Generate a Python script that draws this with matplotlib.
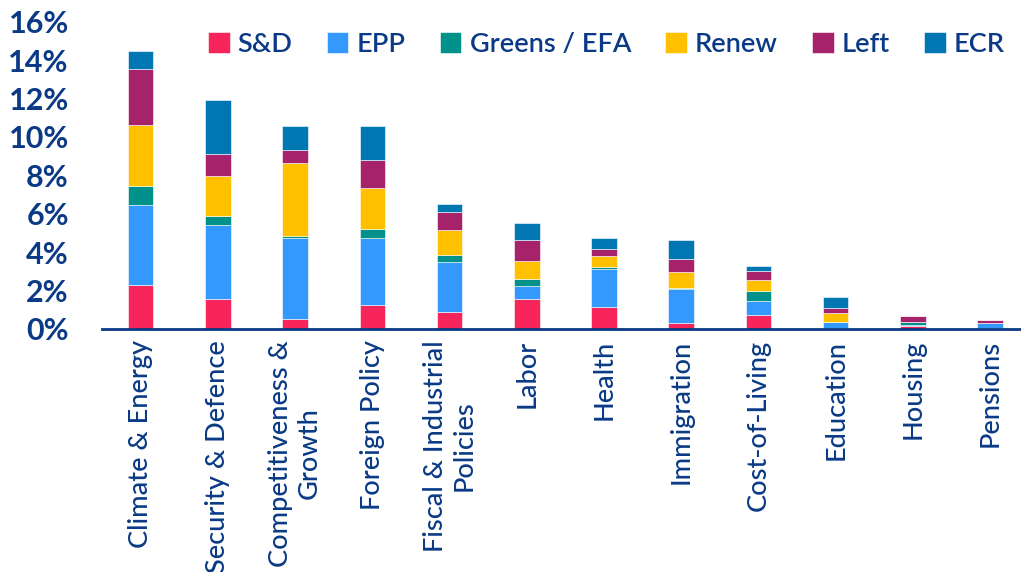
import numpy as np
import matplotlib.pyplot as plt
from matplotlib.ticker import FuncFormatter

categories = ["Climate & Energy", "Security & Defence", "Competitiveness &\nGrowth",
              "Foreign Policy", "Fiscal & Industrial\nPolicies", "Labor", "Health",
              "Immigration", "Cost-of-Living", "Education", "Housing", "Pensions"]

sd = [2.27, 1.55, 0.52, 1.24, 0.89, 1.55, 1.14, 0.33, 0.75, 0.07, 0.17, 0.03]
epp = [4.20, 3.88, 4.19, 3.52, 2.62, 0.70, 1.99, 1.73, 0.70, 0.28, 0.04, 0.27]
greens = [0.96, 0.43, 0.14, 0.44, 0.36, 0.37, 0.08, 0.05, 0.55, 0.03, 0.17, 0.0]
renew = [3.20, 2.13, 3.80, 2.15, 1.28, 0.92, 0.58, 0.87, 0.55, 0.44, 0.0, 0.0]
left = [2.89, 1.14, 0.65, 1.46, 0.96, 1.08, 0.38, 0.67, 0.49, 0.26, 0.30, 0.16]
ecr = [0.97, 2.79, 1.29, 1.77, 0.42, 0.91, 0.59, 0.99, 0.26, 0.60, 0.0, 0.0]

series = [("S&D", sd, "#F7255B"), ("EPP", epp, "#3399FF"),
          ("Greens / EFA", greens, "#00918A"), ("Renew", renew, "#FFC000"),
          ("Left", left, "#A6226A"), ("ECR", ecr, "#0077B3")]

NAVY = "#0A3A85"

plt.rcParams['font.family'] = ['Lato', 'DejaVu Sans']

fig = plt.figure(figsize=(10.21, 5.72), dpi=100)
ax = fig.add_axes([0.1, 0.425, 0.9, 0.537])

x = np.arange(len(categories))
bottom = np.zeros(len(categories))
for name, vals, color in series:
    vals = np.array(vals)
    ax.bar(x, vals, width=0.33, bottom=bottom, color=color, label=name,
           edgecolor="white", linewidth=0.4)
    bottom += vals

ax.set_xlim(-0.5, 11.4)
ax.set_ylim(0, 16)
ax.set_yticks(np.arange(0, 17, 2))
ax.yaxis.set_major_formatter(FuncFormatter(lambda v, p: f"{v:.0f}%"))
ax.set_xticks(x)
ax.set_xticklabels(categories, rotation=90, ha="center", va="top", fontweight="medium")

for s in ["top", "right", "left"]:
    ax.spines[s].set_visible(False)
ax.spines["bottom"].set_color(NAVY)
ax.spines["bottom"].set_linewidth(2)

ax.tick_params(axis="y", length=0, labelsize=22, labelcolor=NAVY, pad=24)
ax.tick_params(axis="x", length=0, labelsize=19.5, labelcolor=NAVY, pad=8)
for t in ax.get_yticklabels():
    t.set_fontweight("bold")

leg = ax.legend(loc="upper right", bbox_to_anchor=(1.0, 1.02), ncol=6, frameon=False,
                prop={"size": 19.5, "weight": "semibold"},
                handlelength=0.8, handleheight=0.8, handletextpad=0.3,
                columnspacing=1.26, borderaxespad=0.2)
for t in leg.get_texts():
    t.set_color(NAVY)

fig.savefig("out.png", dpi=100)
